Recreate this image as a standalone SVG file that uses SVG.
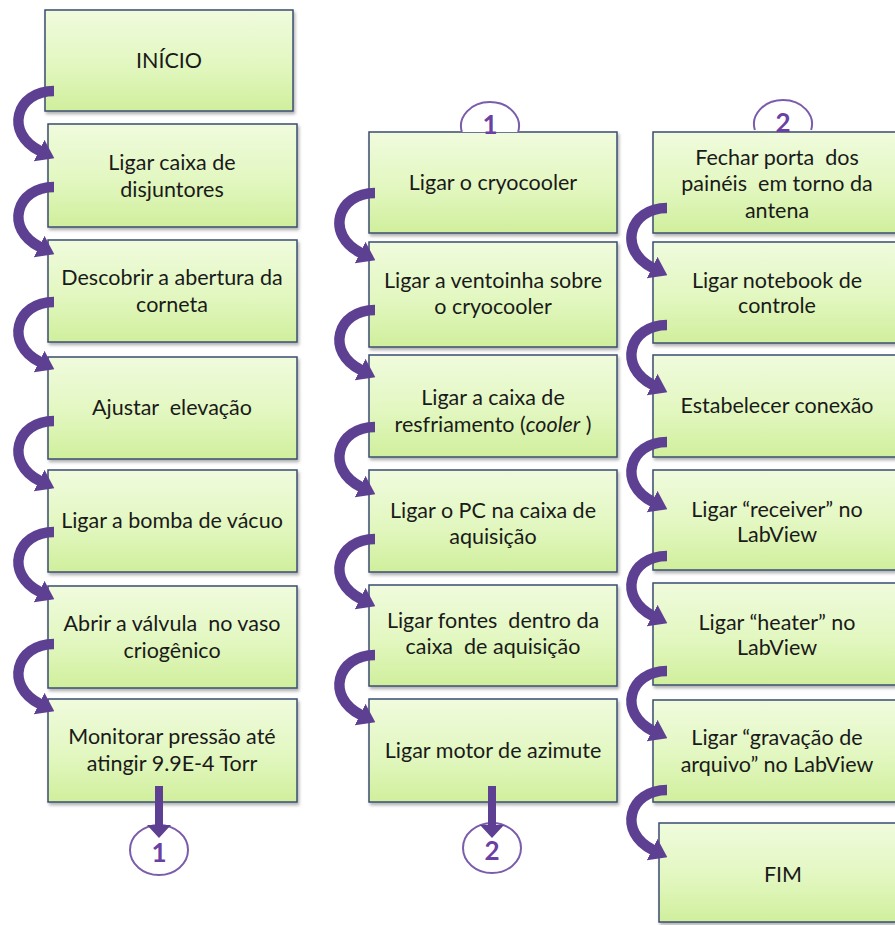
<svg xmlns="http://www.w3.org/2000/svg" width="895" height="925" viewBox="0 0 895 925">
<defs>
<linearGradient id="gf" x1="0" y1="0" x2="0" y2="1">
<stop offset="0" stop-color="#f0fbdd"/>
<stop offset="0.55" stop-color="#e2f7c0"/>
<stop offset="1" stop-color="#d0ef9c"/>
</linearGradient>
<filter id="sh" x="-5%" y="-5%" width="115%" height="125%">
<feDropShadow dx="1.5" dy="2.5" stdDeviation="1.5" flood-color="#000" flood-opacity="0.3"/>
</filter>
<marker id="ah" markerUnits="userSpaceOnUse" markerWidth="17" markerHeight="24" refX="1" refY="12" orient="auto" viewBox="0 0 17 24">
<path d="M0,0 L17,12 L0,24 Z" fill="#5e4093"/>
</marker>
</defs>
<style>
.box{fill:url(#gf);stroke:#3b4c70;stroke-width:1.5;filter:url(#sh)}
.t{font-family:"Lato","Open Sans",sans-serif;font-size:21.5px;fill:#1a1a1a;text-anchor:middle;white-space:pre}
.c{fill:#ffffff;stroke:#7b5cab;stroke-width:2}
.ct{font-family:"Lato","Open Sans",sans-serif;font-size:26px;font-weight:bold;fill:#6a40a2;text-anchor:middle}
.arc{fill:none;stroke:#5e4093;stroke-width:10.5;marker-end:url(#ah)}
.down{fill:#5e4093}
</style>
<rect width="895" height="925" fill="#ffffff"/>

<g id="n-inicio"><rect class="box" x="45" y="10" width="248" height="101"/><text class="t" x="169" y="68">INÍCIO</text></g>
<g id="n-disjuntores"><rect class="box" x="48" y="124" width="249" height="103"/><text class="t" x="172" y="170">Ligar caixa de</text><text class="t" x="172" y="197">disjuntores</text></g>
<g id="n-corneta"><rect class="box" x="48" y="240" width="249" height="102"/><text class="t" x="172" y="285">Descobrir a abertura da</text><text class="t" x="172" y="312">corneta</text></g>
<g id="n-elevacao"><rect class="box" x="48" y="357" width="249" height="102"/><text class="t" x="172" y="415">Ajustar  elevação</text></g>
<g id="n-bomba"><rect class="box" x="48" y="470" width="249" height="102"/><text class="t" x="172" y="528">Ligar a bomba de vácuo</text></g>
<g id="n-valvula"><rect class="box" x="48" y="586" width="249" height="102"/><text class="t" x="172" y="631">Abrir a válvula  no vaso</text><text class="t" x="172" y="658">criogênico</text></g>
<g id="n-monitorar"><rect class="box" x="48" y="699" width="249" height="103"/><text class="t" x="172" y="744">Monitorar pressão até</text><text class="t" x="172" y="771">atingir 9.9E-4 Torr</text></g>

<g id="n-cryocooler"><rect class="box" x="369" y="132" width="248" height="101"/><text class="t" x="493" y="190">Ligar o cryocooler</text></g>
<g id="n-ventoinha"><rect class="box" x="369" y="242" width="248" height="105"/><text class="t" x="493" y="288">Ligar a ventoinha sobre</text><text class="t" x="493" y="314">o cryocooler</text></g>
<g id="n-resfriamento"><rect class="box" x="369" y="355" width="248" height="102"/><text class="t" x="493" y="405">Ligar a caixa de</text><text class="t" x="493" y="432">resfriamento (<tspan font-style="italic">cooler</tspan> )</text></g>
<g id="n-pc"><rect class="box" x="369" y="470" width="248" height="102"/><text class="t" x="493" y="518">Ligar o PC na caixa de</text><text class="t" x="493" y="544">aquisição</text></g>
<g id="n-fontes"><rect class="box" x="369" y="585" width="248" height="101"/><text class="t" x="493" y="628">Ligar fontes  dentro da</text><text class="t" x="493" y="654">caixa  de aquisição</text></g>
<g id="n-motor"><rect class="box" x="369" y="699" width="248" height="103"/><text class="t" x="493" y="758">Ligar motor de azimute</text></g>

<g id="n-porta"><rect class="box" x="653" y="132" width="250" height="101"/><text class="t" x="777" y="165">Fechar porta  dos</text><text class="t" x="777" y="191">painéis  em torno da</text><text class="t" x="777" y="218">antena</text></g>
<g id="n-notebook"><rect class="box" x="653" y="242" width="250" height="101"/><text class="t" x="777" y="288">Ligar notebook de</text><text class="t" x="777" y="313">controle</text></g>
<g id="n-conexao"><rect class="box" x="653" y="355" width="250" height="102"/><text class="t" x="777" y="413">Estabelecer conexão</text></g>
<g id="n-receiver"><rect class="box" x="653" y="470" width="250" height="100"/><text class="t" x="777" y="517">Ligar “receiver” no</text><text class="t" x="777" y="542">LabView</text></g>
<g id="n-heater"><rect class="box" x="653" y="583" width="250" height="102"/><text class="t" x="777" y="630">Ligar “heater” no</text><text class="t" x="777" y="655">LabView</text></g>
<g id="n-gravacao"><rect class="box" x="653" y="700" width="250" height="102"/><text class="t" x="777" y="745">Ligar “gravação de</text><text class="t" x="777" y="772">arquivo” no LabView</text></g>
<g id="n-fim"><rect class="box" x="659" y="823" width="250" height="99"/><text class="t" x="783" y="882">FIM</text></g>

<g id="conn-top-1"><path class="c" d="M461.9,132 A29,24 0 1 1 518.1,132"/><text class="ct" x="490" y="134" font-size="24">1</text></g>
<g id="conn-top-2"><path class="c" d="M754.9,132 A29,24 0 1 1 811.1,132" transform="translate(0,-2)"/><text class="ct" x="783" y="132" font-size="24">2</text></g>

<g id="conn-bottom-1"><ellipse class="c" cx="159" cy="850" rx="29" ry="25"/><text class="ct" x="159" y="862">1</text></g>
<g id="conn-bottom-2"><ellipse class="c" cx="492" cy="848" rx="29" ry="25"/><text class="ct" x="492" y="860">2</text></g>

<g id="connectors">
<path class="arc" d="M6,0 C-32,0 -44,42 -8,60" transform="translate(48,91)"/>
<path class="arc" d="M6,0 C-32,0 -44,42 -8,60" transform="translate(48,187)"/>
<path class="arc" d="M6,0 C-32,0 -44,42 -8,60" transform="translate(48,302)"/>
<path class="arc" d="M6,0 C-32,0 -44,42 -8,60" transform="translate(48,421)"/>
<path class="arc" d="M6,0 C-32,0 -44,42 -8,60" transform="translate(48,532)"/>
<path class="arc" d="M6,0 C-32,0 -44,42 -8,60" transform="translate(48,644)"/>
<path class="arc" d="M6,0 C-32,0 -44,42 -8,60" transform="translate(369,193)"/>
<path class="arc" d="M6,0 C-32,0 -44,42 -8,60" transform="translate(369,310)"/>
<path class="arc" d="M6,0 C-32,0 -44,42 -8,60" transform="translate(369,427)"/>
<path class="arc" d="M6,0 C-32,0 -44,42 -8,60" transform="translate(369,539)"/>
<path class="arc" d="M6,0 C-32,0 -44,42 -8,60" transform="translate(369,655)"/>
<path class="arc" d="M6,0 C-32,0 -44,42 -8,60" transform="translate(661,208)"/>
<path class="arc" d="M6,0 C-32,0 -44,42 -8,60" transform="translate(661,325)"/>
<path class="arc" d="M6,0 C-32,0 -44,42 -8,60" transform="translate(661,442)"/>
<path class="arc" d="M6,0 C-32,0 -44,42 -8,60" transform="translate(661,556)"/>
<path class="arc" d="M6,0 C-32,0 -44,42 -8,60" transform="translate(661,671)"/>
<path class="arc" d="M6,0 C-32,0 -44,42 -8,60" transform="translate(661,790)"/>
<path class="down" d="M155,786 L163,786 L163,825 L171,825 L159,838 L147,825 L155,825 Z"/>
<path class="down" d="M488,786 L496,786 L496,825 L504,825 L492,838 L480,825 L488,825 Z"/>
</g>
</svg>
